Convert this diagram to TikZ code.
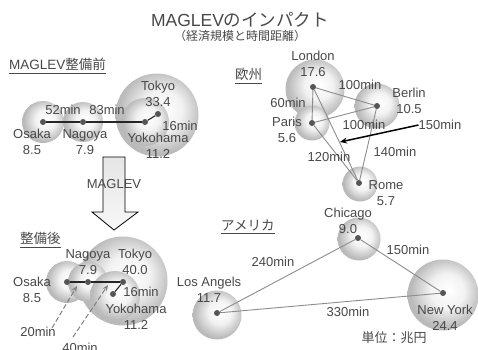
\documentclass[tikz,border=0pt]{standalone}
\usepackage{fontspec}
\setmainfont{Liberation Sans}
\newfontfamily\jp{Noto Sans CJK JP}
\usetikzlibrary{arrows.meta,calc}
\pgfdeclareradialshading{sph}{\pgfpoint{4bp}{4bp}}{color(0bp)=(white); color(12bp)=(white!95!black); color(25bp)=(white!73!black); color(50bp)=(white!73!black)}
\definecolor{txt}{HTML}{484848}
\definecolor{dotc}{HTML}{555555}
\definecolor{lgray}{HTML}{8C8C8C}
\tikzset{
  lbl/.style={text=txt, inner sep=0pt, align=center, font=\fontsize{13}{16}\selectfont},
  hdr/.style={text=txt, inner sep=0pt, font=\fontsize{13.5}{16}\selectfont},
  jhdr/.style={text=txt, inner sep=0pt, font={\fontsize{13.5}{16}\selectfont\jp}},
  dotn/.style={circle, fill=dotc, inner sep=0pt, minimum size=6pt},
  ball/.style={shading=sph},
  blk/.style={draw=black!85, line width=1.1pt},
  gln/.style={draw=lgray, line width=0.9pt},
  dsh/.style={draw=gray, line width=1pt, dash pattern=on 5pt off 2.5pt, -{Stealth[length=6pt,width=5pt]}},
}
\begin{document}
\begin{tikzpicture}[x=1pt,y=-1pt]
\useasboundingbox (0,0) rectangle (478,349);
% title
\node[text=txt, inner sep=0pt, font=\fontsize{17.5}{20}\selectfont] (title) at (240,20) {MAGLEV{\jp のインパクト}};
\node[text=txt, inner sep=0pt, font={\fontsize{12}{14}\selectfont\jp}] (subtitle) at (240,36) {（経済規模と時間距離）};
% headers
\node[hdr, anchor=west] (h1) at (9,64) {MAGLEV{\jp 整備前}};
\node[jhdr, anchor=west] (h2) at (235,74) {欧州};
\node[jhdr, anchor=west] (h3) at (20,238) {整備後};
\node[jhdr, anchor=west] (h4) at (221,225) {アメリカ};
\foreach \h in {h1,h2,h3,h4} {\draw[txt, line width=0.7pt] ($(\h.south west)+(0,2.5)$) -- ($(\h.south east)+(0,2.5)$);}
% ---------- before ----------
\coordinate (cOA) at (43,122);
\coordinate (cNA) at (83,122);
\coordinate (cYA) at (145,122);
\coordinate (cTA) at (158,114);
\shade[ball] (cOA) circle (21pt);
\shade[ball] (cNA) circle (20pt);
\shade[ball] (157,115) circle (41.5pt);
\shade[ball] (cYA) circle (24pt);
\node[dotn] (oA) at (cOA) {};
\node[dotn] (nA) at (cNA) {};
\node[dotn] (yA) at (cYA) {};
\node[dotn] (tA) at (cTA) {};
\draw[blk] (oA) -- (nA);
\draw[blk] (nA) -- (yA);
\draw[blk] (yA) -- (tA);
\node[lbl] (lTA) at (158,94) {Tokyo\\33.4};
\node[lbl] (lOA) at (32,142) {Osaka\\8.5};
\node[lbl] (lNA) at (85,142) {Nagoya\\7.9};
\node[lbl] (lYA) at (158,146) {Yokohama\\11.2};
\node[lbl] (m52) at (63,110) {52min};
\node[lbl] (m83) at (107,110) {83min};
\node[lbl] (m16a) at (180,126) {16min};
% ---------- MAGLEV arrow ----------
\shade[top color=white!90!black, bottom color=white!97!black, draw=black, line width=0.8pt]
  (103,157) -- (125,157) -- (125,212) -- (138,212) -- (114,230) -- (92,212) -- (103,212) -- cycle;
\node[lbl] (mag) at (114,184) {MAGLEV};
% ---------- after ----------
\coordinate (cOB) at (67,282);
\coordinate (cNB) at (88,282);
\coordinate (cTB) at (123,282);
\coordinate (cYB) at (113,294);
\shade[ball] (123,281) circle (44.5pt);
\shade[ball] (cOB) circle (21pt);
\shade[ball] (cNB) circle (20pt);
\shade[ball] (115,296) circle (25pt);
\node[dotn] (oB) at (cOB) {};
\node[dotn] (nB) at (cNB) {};
\node[dotn] (tB) at (cTB) {};
\node[dotn] (yB) at (cYB) {};
\draw[blk] (oB) -- (nB);
\draw[blk] (nB) -- (tB);
\draw[blk] (tB) -- (yB);
\coordinate (d1s) at (52,328);
\coordinate (d1e) at (77,286);
\coordinate (d2s) at (73,337);
\coordinate (d2e) at (108,285);
\draw[dsh] (d1s) -- (d1e);
\draw[dsh] (d2s) -- (d2e);
\node[lbl] (lNB) at (88,262) {Nagoya\\7.9};
\node[lbl] (lTB) at (135,262) {Tokyo\\40.0};
\node[lbl] (lOB) at (32,290) {Osaka\\8.5};
\node[lbl] (m16b) at (141,292) {16min};
\node[lbl] (lYB) at (136,317) {Yokohama\\11.2};
\node[lbl] (m20) at (38,332) {20min};
\node[lbl] (m40) at (80,348) {40min};
% ---------- Europe ----------
\coordinate (cL) at (313,87);
\coordinate (cB) at (377,106);
\coordinate (cP) at (312,123);
\coordinate (cR) at (359,183);
\shade[ball] (315,89) circle (29.5pt);
\shade[ball] (cP) circle (17.5pt);
\shade[ball] (cB) circle (22.5pt);
\shade[ball] (360,184) circle (17.5pt);
\node[dotn] (L) at (cL) {};
\node[dotn] (B) at (cB) {};
\node[dotn] (P) at (cP) {};
\node[dotn] (R) at (cR) {};
\draw[gln] (L) -- (B);
\draw[gln] (L) -- (P);
\draw[gln] (P) -- (B);
\draw[gln] (L) -- (R);
\draw[gln] (P) -- (R);
\draw[gln] (B) -- (R);
\node[lbl] (lL) at (313,64) {London\\17.6};
\node[lbl] (lB) at (409,101) {Berlin\\10.5};
\node[lbl] (lP) at (287,130) {Paris\\5.6};
\node[lbl] (lR) at (386,193) {Rome\\5.7};
\node[lbl] (m60) at (288,103) {60min};
\node[lbl] (m100a) at (360,85) {100min};
\node[lbl] (m100b) at (364,125) {100min};
\node[lbl] (m150e) at (440,125) {150min};
\node[lbl] (m140) at (395,152) {140min};
\node[lbl] (m120) at (329,157) {120min};
\coordinate (arE) at (340,142);
\draw[black, line width=1.5pt, -{Stealth[length=7pt,width=6pt]}] (m150e.west) -- (arE);
% ---------- America ----------
\coordinate (cC) at (358,238);
\coordinate (cNY) at (443,293);
\coordinate (cLA) at (217,313);
\shade[ball] (359,239) circle (21.5pt);
\shade[ball] (443,295) circle (35.5pt);
\shade[ball] (217,315) circle (24.5pt);
\node[dotn] (C) at (cC) {};
\node[dotn] (NY) at (cNY) {};
\node[dotn] (LA) at (cLA) {};
\draw[gln] (LA) -- (C);
\draw[gln] (C) -- (NY);
\draw[gln] (LA) -- (NY);
\node[lbl] (lC) at (348,221) {Chicago\\9.0};
\node[lbl] (lNY) at (445,318) {New York\\24.4};
\node[lbl] (lLA) at (209,290) {Los Angels\\11.7};
\node[lbl] (m150a) at (408,250) {150min};
\node[lbl] (m240) at (273,262) {240min};
\node[lbl] (m330) at (348,312) {330min};
\node[lbl, font={\fontsize{13}{16}\selectfont\jp}] (unit) at (394,338) {単位：兆円};
\end{tikzpicture}
\end{document}
